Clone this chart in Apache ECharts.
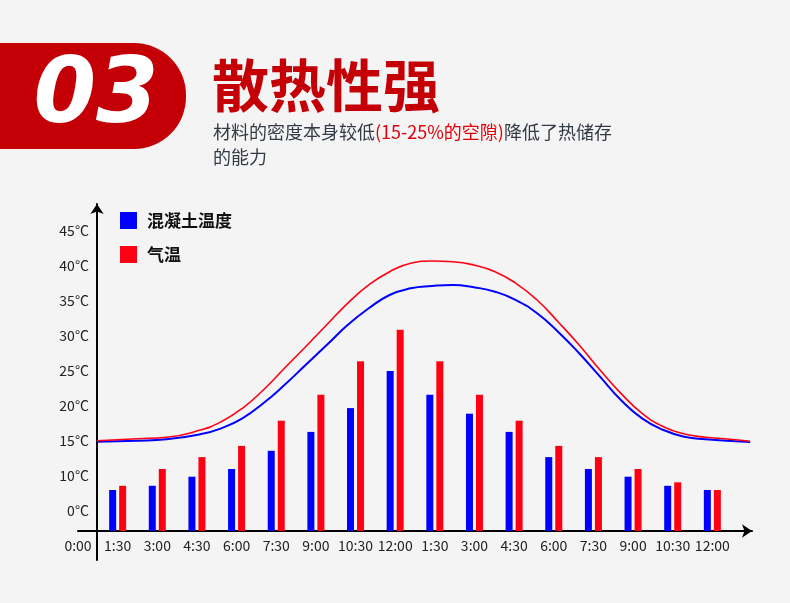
<!DOCTYPE html>
<html>
<head>
<meta charset="utf-8">
<script src="https://cdn.jsdelivr.net/npm/echarts@6/dist/echarts.min.js"></script>
<style>
  html, body { margin: 0; padding: 0; background: #f4f4f4; }
  #chart { width: 790px; height: 603px; }
</style>
</head>
<body>
<div id="chart"></div>
<script>
// ---- data ----
const categories = ['0:00','1:30','3:00','4:30','6:00','7:30','9:00','10:30','12:00','1:30','3:00','4:30','6:00','7:30','9:00','10:30','12:00',''];
const concreteTemp = [null, 8, 8.6, 9.9, 11, 13.6, 16.3, 19.7, 25, 21.6, 18.9, 16.3, 12.7, 11, 9.9, 8.6, 8, null];
const airTemp      = [null, 8.6, 11, 12.7, 14.3, 17.9, 21.6, 26.4, 30.9, 26.4, 21.6, 17.9, 14.3, 12.7, 11, 9.1, 8, null];

// smooth curves (hours along the axis, °C)
const curveHours    = [0.72, 2.23, 3.35, 4.63, 5.42, 6.22, 7.01, 7.81, 8.61, 9.41, 10.20, 11.00, 11.79, 12.59, 13.39, 14.18, 14.98, 15.78, 16.57, 17.37, 18.16, 18.96, 19.75, 20.54, 21.34, 22.15, 22.95, 23.74, 24.54, 25.43];
const airCurve      = [15.04, 15.33, 15.53, 16.57, 17.76, 19.67, 22.29, 25.39, 28.47, 31.6, 34.67, 37.29, 39.19, 40.39, 40.71, 40.61, 40.14, 39.19, 37.53, 35.14, 32.04, 28.71, 25.14, 21.81, 18.96, 17.04, 16.0, 15.53, 15.29, 14.97];
const concreteCurve = [14.9, 15.04, 15.24, 15.96, 16.81, 18.24, 20.39, 23.0, 25.86, 28.71, 31.57, 33.96, 35.86, 36.81, 37.14, 37.29, 36.96, 36.33, 35.14, 33.24, 30.61, 27.53, 24.19, 20.86, 18.24, 16.57, 15.61, 15.24, 15.04, 14.86];

const yTickValues = [5, 10, 15, 20, 25, 30, 35, 40, 45];
const yTickLabels = ['0°C', '10°C', '15°C', '20°C', '25°C', '30°C', '35°C', '40°C', '45°C'];

const seriesNames = ['混凝土温度', '气温'];
const titleText = '散热性强';
const badgeText = '03';

const FONT = '"Noto Sans CJK SC", "Noto Sans", sans-serif';

const chart = echarts.init(document.getElementById('chart'));
const option = {
  backgroundColor: '#f4f4f4',
  animation: false,
  graphic: [
    { type: 'rect', shape: { x: 0, y: 43, width: 186, height: 106, r: [0, 52, 52, 0] }, style: { fill: '#c40006' } },
    { type: 'text', style: { x: 96, y: 99, text: badgeText, fill: '#ffffff', font: 'italic bold 90px "DejaVu Sans"', textAlign: 'center', textVerticalAlign: 'middle' } },
    { type: 'text', style: { x: 212, y: 85, text: titleText, fill: '#c40006', fontSize: 57, fontWeight: 'bold', fontFamily: FONT, textAlign: 'left', textVerticalAlign: 'middle' } },
    { type: 'text', style: {
        x: 213, y: 120, textVerticalAlign: 'top', textAlign: 'left',
        text: '{g|材料的密度本身较低}{r|(15-25%的空隙)}{g|降低了热储存}\n{g|的能力}',
        rich: {
          g: { fontSize: 18, fontFamily: FONT, fill: '#333a44', lineHeight: 25 },
          r: { fontSize: 18, fontFamily: FONT, fill: '#e0000a', lineHeight: 25 }
        }
      } }
  ],
  legend: {
    data: seriesNames,
    orient: 'vertical',
    left: 120,
    top: 212,
    icon: 'rect',
    itemWidth: 17,
    itemHeight: 17,
    itemGap: 17,
    padding: 0,
    textStyle: { fontSize: 17, fontWeight: 'bold', color: '#111', fontFamily: FONT, padding: [0, 0, 0, 5] }
  },
  grid: [
    { left: 78, right: 38, top: 196, bottom: 72 },
    { left: 97, width: 10, top: 204, bottom: 43 }
  ],
  xAxis: [
    {
      type: 'category', gridIndex: 0, data: categories, boundaryGap: false,
      axisLine: { onZero: false, lineStyle: { color: '#000', width: 2 }, symbol: ['none', 'arrow'], symbolSize: [10, 10] },
      axisTick: { show: false },
      axisLabel: { interval: 0, margin: 8, fontSize: 14, color: '#222', fontFamily: FONT },
      splitLine: { show: false }
    },
    { type: 'value', gridIndex: 0, min: 0, max: 25.5, show: false },
    { type: 'value', gridIndex: 1, min: 0, max: 1, show: false }
  ],
  yAxis: [
    {
      type: 'value', gridIndex: 0, min: 15 / 7, max: 50, interval: 5 / 7, offset: -19,
      axisLine: { show: false }, axisTick: { show: false }, splitLine: { show: false },
      axisLabel: {
        margin: 8, fontSize: 14, color: '#222', fontFamily: FONT,
        formatter: function (v) {
          const i = yTickValues.findIndex(t => Math.abs(t - v) < 0.02);
          return i >= 0 ? yTickLabels[i] : '';
        }
      }
    },
    {
      type: 'value', gridIndex: 1, min: 0, max: 1,
      axisLine: { show: true, lineStyle: { color: '#000', width: 2 }, symbol: ['none', 'arrow'], symbolSize: [10, 10] },
      axisTick: { show: false }, axisLabel: { show: false }, splitLine: { show: false }
    }
  ],
  series: [
    { name: seriesNames[0], type: 'bar', xAxisIndex: 0, yAxisIndex: 0, data: concreteTemp, barWidth: 7, barGap: '43%', itemStyle: { color: '#0000ff' } },
    { name: seriesNames[1], type: 'bar', xAxisIndex: 0, yAxisIndex: 0, data: airTemp, barWidth: 7, barGap: '43%', itemStyle: { color: '#ff0012' } },
    { name: 'concreteCurve', type: 'line', xAxisIndex: 1, yAxisIndex: 0, smooth: 0.5, showSymbol: false,
      data: curveHours.map((h, i) => [h, concreteCurve[i]]), lineStyle: { color: '#0000ff', width: 2 }, z: 3 },
    { name: 'airCurve', type: 'line', xAxisIndex: 1, yAxisIndex: 0, smooth: 0.5, showSymbol: false,
      data: curveHours.map((h, i) => [h, airCurve[i]]), lineStyle: { color: '#ff0012', width: 1.6 }, z: 3 }
  ]
};
chart.setOption(option);
</script>
</body>
</html>
